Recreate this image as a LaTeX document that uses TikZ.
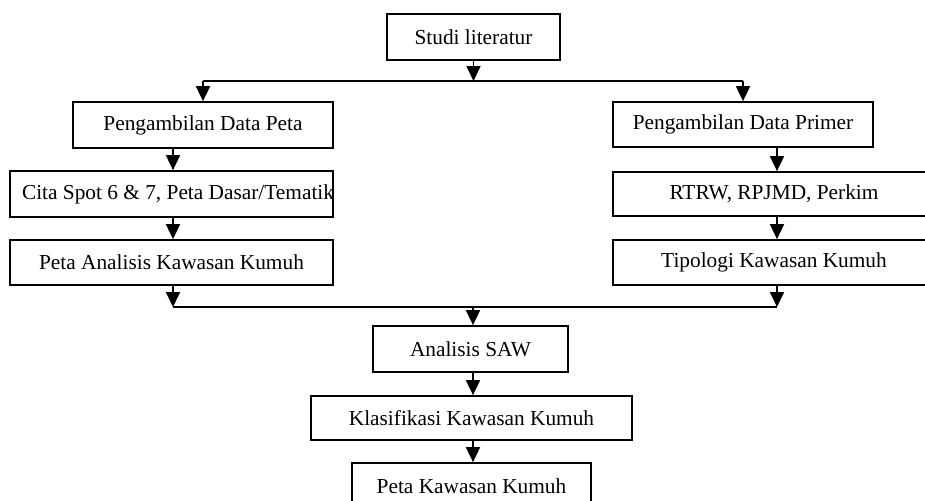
\documentclass[tikz,border=0pt]{standalone}
\usepackage{fontspec}
\setmainfont{Liberation Serif}
\usetikzlibrary{arrows.meta,calc}
\begin{document}
\begin{tikzpicture}[x=0.75pt,y=-0.75pt,
  box/.style={draw=black,line width=1.3pt,fill=white,inner sep=0pt,minimum height=34.5pt,font=\fontsize{16}{19}\selectfont},
  conn/.style={draw=black,line width=1.3pt},
  arr/.style={conn,-{Triangle[length=11.25pt,width=10.5pt]}},
  lbl/.style={inner sep=0pt,font=\fontsize{16}{19}\selectfont}]
\useasboundingbox (0,0) rectangle (925,500);
\clip (0,0) rectangle (925,500);
% boxes
\node[box,minimum width=129.75pt] (studi) at (473.5,37) {Studi literatur};
\node[box,minimum width=195pt] (p1) at (203,125) {Pengambilan Data Peta};
\node[box,minimum width=242.25pt] (c2) at (171.5,194) {};
\node[lbl] (c2t) at ($(c2.center)+(6.5,0)$) {Cita Spot 6 \& 7, Peta Dasar/Tematik};
\node[box,minimum width=242.25pt,minimum height=33.75pt] (c3) at (171.5,262.5) {Peta Analisis Kawasan Kumuh};
\node[box,minimum width=195pt,minimum height=33.75pt] (r1) at (743,124.5) {Pengambilan Data Primer};
\node[box,minimum width=241.5pt,minimum height=33pt] (r2) at (774,194) {RTRW, RPJMD, Perkim};
\node[box,minimum width=241.5pt,minimum height=33.75pt] (r3) at (774,262.5) {Tipologi Kawasan Kumuh};
\node[box,minimum width=146.25pt] (saw) at (470.5,349) {Analisis SAW};
\node[box,minimum width=240.75pt,minimum height=33pt] (klas) at (471.5,418) {Klasifikasi Kawasan Kumuh};
\node[box,minimum width=179.25pt] (peta) at (471.5,486) {Peta Kawasan Kumuh};
% junctions
\coordinate (jt) at (473.5,81);
\coordinate (jl) at (p1.north |- jt);
\coordinate (jr) at (r1.north |- jt);
\coordinate (bl) at (173,307);
\coordinate (br) at (777,307);
\coordinate (bm) at (473,307);
% connectors
\draw[arr] (studi.south) -- (jt);
\draw[conn] (jl) -- (jr);
\draw[arr] (jl) -- (p1.north);
\draw[arr] (jr) -- (r1.north);
\draw[arr] (c2.north -| bl) ++(0,-23) -- (c2.north -| bl);
\draw[arr] (c2.south -| bl) -- (c3.north -| bl);
\draw[arr] (c3.south -| bl) -- (bl);
\draw[arr] (r1.south -| br) -- (r2.north -| br);
\draw[arr] (r2.south -| br) -- (r3.north -| br);
\draw[arr] (r3.south -| br) -- (br);
\draw[conn] (bl) -- (br);
\draw[arr] (bm) -- (saw.north -| bm);
\draw[arr] (saw.south -| bm) -- (klas.north -| bm);
\draw[arr] (klas.south -| bm) -- (peta.north -| bm);
\end{tikzpicture}
\end{document}
